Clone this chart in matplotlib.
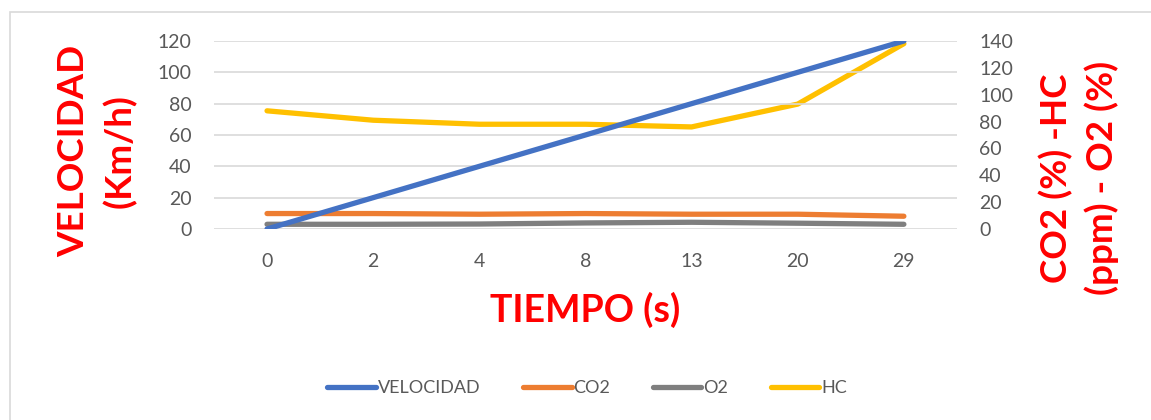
import matplotlib.pyplot as plt
import numpy as np

# =========================
# DATA
# =========================
tiempo = ["0", "2", "4", "8", "13", "20", "29"]
velocidad = [0, 20, 40, 60, 80, 100, 120]
co2 = [11.5, 11.5, 11, 11.5, 11, 11, 9.5]
o2 = [3.5, 3.5, 3.7, 4.5, 5, 4.3, 3.5]
hc = [88, 81, 78, 78, 76, 93, 138]

BLUE = "#4472C4"
ORANGE = "#ED7D31"
GRAY = "#7F7F7F"
GOLD = "#FFC000"
TICK = "#595959"
RED = "#FF0000"

plt.rcParams["font.family"] = ["Lato", "DejaVu Sans"]

fig = plt.figure(figsize=(11.51, 4.2), dpi=100)
ax = fig.add_axes([0.1859, 0.4548, 0.6455, 0.4476])
ax2 = ax.twinx()

x = np.arange(len(tiempo))
LW = 3.8

l1, = ax.plot(x, velocidad, color=BLUE, lw=LW, label="VELOCIDAD", solid_capstyle="round", zorder=3)
l2, = ax2.plot(x, co2, color=ORANGE, lw=LW, label="CO2", solid_capstyle="round")
l3, = ax2.plot(x, o2, color=GRAY, lw=LW, label="O2", solid_capstyle="round")
l4, = ax2.plot(x, hc, color=GOLD, lw=LW, label="HC", solid_capstyle="round")

ax.set_xlim(-0.5, len(tiempo) - 0.5)
ax.set_ylim(0, 120)
ax.set_yticks(range(0, 121, 20))
ax2.set_ylim(0, 140)
ax2.set_yticks(range(0, 141, 20))
ax.set_xticks(x)
ax.set_xticklabels(tiempo)

ax.grid(axis="y", color="#D9D9D9", lw=1.2)
ax.set_axisbelow(True)
ax.set_zorder(ax2.get_zorder() + 1)
ax.patch.set_visible(False)

for a in (ax, ax2):
    for s in a.spines.values():
        s.set_visible(False)
    a.tick_params(length=0, labelsize=14, labelcolor=TICK)
ax.tick_params(axis="y", pad=16)
ax.tick_params(axis="x", pad=17)
ax2.tick_params(axis="y", pad=16)

fig.text(0.0843, 0.640, "VELOCIDAD\n(Km/h)", rotation=90, ha="center", va="center",
         color=RED, fontsize=26.5, fontweight="bold", linespacing=1.4)
fig.text(0.9375, 0.576, "CO2 (%) -HC\n(ppm) - O2 (%)", rotation=90, ha="center", va="center",
         color=RED, fontsize=26.5, fontweight="bold", linespacing=1.4)
fig.text(0.508, 0.262, "TIEMPO (s)", ha="center", va="center",
         color=RED, fontsize=27, fontweight="bold")

fig.legend(handles=[l1, l2, l3, l4], loc="center", bbox_to_anchor=(0.510, 0.076), ncol=4,
           frameon=False, fontsize=13, labelcolor=TICK, handlelength=2.7, handletextpad=0.1,
           columnspacing=2.35)

# border around the chart
fig.patches.append(plt.Rectangle((0.009, -0.01), 1.0, 0.981, transform=fig.transFigure,
                                 fill=False, edgecolor="#D9D9D9", lw=1.2))

fig.savefig("out.png", dpi=100)
